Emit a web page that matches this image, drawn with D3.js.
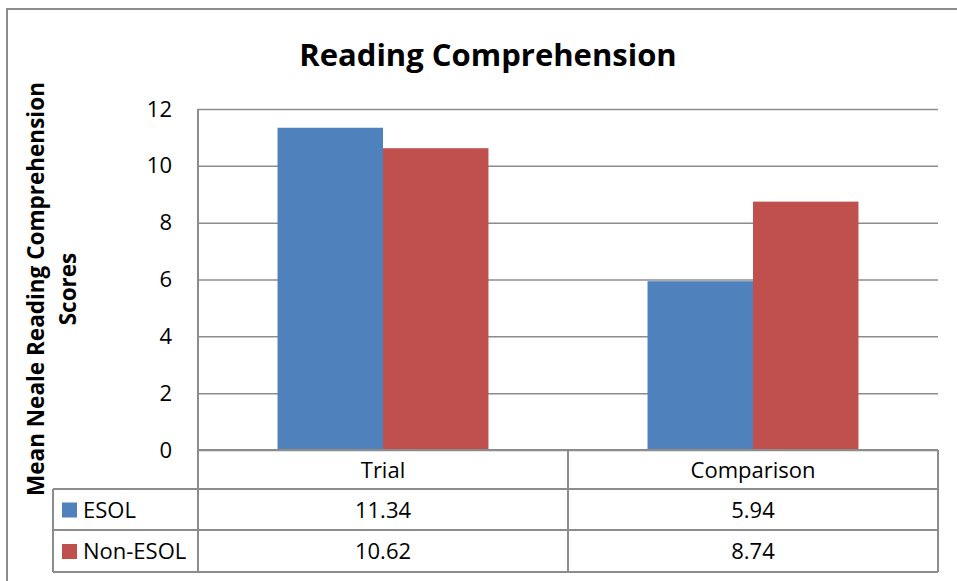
<!DOCTYPE html>
<html><head><meta charset="utf-8">
<script src="https://cdn.jsdelivr.net/npm/d3@7"></script>
<style>body{margin:0;background:#fff}svg text{font-family:"Open Sans","Noto Sans",sans-serif}</style>
</head><body>
<script>
const categories = ["Trial", "Comparison"];
const seriesNames = ["ESOL", "Non-ESOL"];
const esol = [11.34, 5.94];
const nonEsol = [10.62, 8.74];
const yTicks = [0, 2, 4, 6, 8, 10, 12];
const colors = ["#4F81BD", "#C0504D"];
const series = [esol, nonEsol];

const W = 957, H = 581;
const svg = d3.select("body").append("svg").attr("width", W).attr("height", H);
const gridColor = "#8c8c8c";
const fs = 22;

// outer border
svg.append("rect").attr("x", 7).attr("y", 9).attr("width", 960).attr("height", 600)
  .attr("fill", "none").attr("stroke", "#8c8c8c").attr("stroke-width", 2);

const pLeft = 198, pRight = 938, pTop = 109, pBottom = 450;
const y = d3.scaleLinear().domain([0, 12]).range([pBottom, pTop]);
const x0 = d3.scaleBand().domain(categories).range([pLeft, pRight]).paddingInner(0).paddingOuter(0);
const x1 = d3.scaleBand().domain(seriesNames).range([0, x0.bandwidth()]).paddingInner(0).paddingOuter(0.754);

// title
svg.append("text").attr("x", 488).attr("y", 66).attr("text-anchor", "middle")
  .attr("font-size", 31).attr("font-weight", "bold").attr("fill", "#000").text("Reading Comprehension");

// gridlines
const yAxis = d3.axisLeft(y).tickValues(yTicks).tickSize(-(pRight - pLeft)).tickPadding(26);
const ga = svg.append("g").attr("transform", `translate(${pLeft},0)`).call(yAxis);
ga.select(".domain").remove();
ga.selectAll(".tick line").attr("stroke", gridColor).attr("stroke-width", 1.5);
ga.selectAll(".tick text").attr("font-size", fs).attr("fill", "#000")
  .attr("font-family", '"Open Sans","Noto Sans",sans-serif');

// bars
const groups = svg.append("g").selectAll("g").data(categories).join("g")
  .attr("transform", d => `translate(${x0(d)},0)`);
groups.selectAll("rect").data((d, i) => seriesNames.map((s, k) => ({s, v: series[k][i], k})))
  .join("rect")
  .attr("x", d => x1(d.s)).attr("width", x1.bandwidth())
  .attr("y", d => y(d.v)).attr("height", d => y(0) - y(d.v))
  .attr("fill", d => colors[d.k]);

// table
const rowH = [450, 489, 530, 572];
const tableLeft = 53;
const lineAttrs = sel => sel.attr("stroke", gridColor).attr("stroke-width", 2);
svg.append("line").attr("x1", pLeft).attr("x2", pLeft).attr("y1", pTop).attr("y2", rowH[3]).call(lineAttrs);
svg.append("line").attr("x1", pRight).attr("x2", pRight).attr("y1", pBottom).attr("y2", rowH[3]).call(lineAttrs);
svg.append("line").attr("x1", pLeft).attr("x2", pRight).attr("y1", rowH[0]).attr("y2", rowH[0]).call(lineAttrs);
[1, 2, 3].forEach(i => svg.append("line").attr("x1", tableLeft).attr("x2", pRight)
  .attr("y1", rowH[i]).attr("y2", rowH[i]).call(lineAttrs));
svg.append("line").attr("x1", tableLeft).attr("x2", tableLeft).attr("y1", rowH[1]).attr("y2", rowH[3]).call(lineAttrs);
svg.append("line").attr("x1", x0(categories[1])).attr("x2", x0(categories[1]))
  .attr("y1", rowH[0]).attr("y2", rowH[3]).call(lineAttrs);

// category labels
categories.forEach(c => svg.append("text").attr("x", x0(c) + x0.bandwidth() / 2)
  .attr("y", (rowH[0] + rowH[1]) / 2 + 8).attr("text-anchor", "middle")
  .attr("font-size", fs).text(c));

// series rows
seriesNames.forEach((s, k) => {
  const yc = (rowH[k + 1] + rowH[k + 2]) / 2;
  svg.append("rect").attr("x", 62).attr("y", yc - 7).attr("width", 15).attr("height", 15).attr("fill", colors[k]);
  svg.append("text").attr("x", 83).attr("y", yc + 8).attr("font-size", fs).text(s);
  categories.forEach((c, i) => svg.append("text").attr("x", x0(c) + x0.bandwidth() / 2)
    .attr("y", yc + 8).attr("text-anchor", "middle").attr("font-size", fs).text(series[k][i].toFixed(2)));
});

// y axis title
const yt = svg.append("text").attr("font-size", 22.5)
  .attr("font-weight", "bold").attr("text-anchor", "middle").attr("transform", "rotate(-90)");
yt.append("tspan").attr("x", -289).attr("y", 44).text("Mean Neale Reading Comprehension");
yt.append("tspan").attr("x", -289).attr("y", 76).text("Scores");
</script>
</body></html>
